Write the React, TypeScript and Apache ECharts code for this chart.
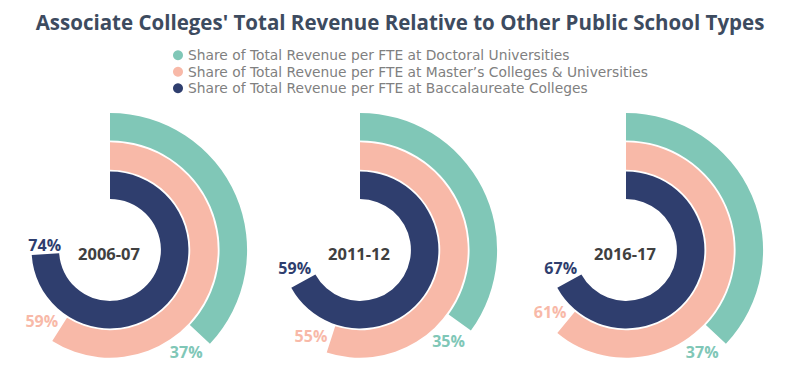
import React, { useEffect, useRef } from "react";
import * as echarts from "echarts";

const years = ["2006-07", "2011-12", "2016-17"];
const seriesNames = [
  "Share of Total Revenue per FTE at Doctoral Universities",
  "Share of Total Revenue per FTE at Master\u2019s Colleges & Universities",
  "Share of Total Revenue per FTE at Baccalaureate Colleges",
];
// arc values as drawn, per year
const doctoral = [37, 35, 37];
const masters = [59, 55, 61];
const baccalaureate = [74, 67, 67];
// printed label values, per year
const doctoralLabels = [37, 35, 37];
const mastersLabels = [59, 55, 61];
const baccalaureateLabels = [74, 59, 67];
const colors = ["#80c7b7", "#f8b9a8", "#2f3e6e"];
// ring order inside -> outside
const rings = ["Baccalaureate", "Master's", "Doctoral"];

const centersX = [110, 360, 626];
const centerY = 250;

export default function App() {
  const ref = useRef<HTMLDivElement>(null);
  useEffect(() => {
    if (!ref.current) return;
    const chart = echarts.init(ref.current, null, { renderer: "svg" });
    const valueSets = [doctoral, masters, baccalaureate];
    const labelSets = [doctoralLabels, mastersLabels, baccalaureateLabels];
    const ringIndex = [2, 1, 0]; // doctoral outermost
    const series: any[] = [];
    years.forEach((_, p) => {
      const cx = centersX[p];
      valueSets.forEach((vals, t) => {
        const data: any[] = ["-", "-", "-"];
        data[ringIndex[t]] = vals[p];
        const labelText = labelSets[t][p] + "%";
        series.push({
          type: "bar",
          name: seriesNames[t],
          coordinateSystem: "polar",
          polarIndex: p,
          stack: "ring" + p,
          data,
          barWidth: 27.5,
          itemStyle: { color: colors[t] },
          label: {
            show: true,
            position: "end",
            rotate: 0,
            distance: 0,
            align: "center",
            verticalAlign: "middle",
            formatter: () => labelText,
            color: colors[t],
            fontSize: 16,
            fontWeight: "bold",
            fontFamily: "Open Sans",
          },
          labelLayout: (params: any) => {
            const r = params.labelRect;
            const lx = r.x + r.width / 2;
            const ly = r.y + r.height / 2;
            const phi = Math.atan2(ly - centerY, lx - cx);
            const tx = -Math.sin(phi);
            const ty = Math.cos(phi);
            const ext = Math.abs(tx) * r.width / 2 + Math.abs(ty) * r.height / 2;
            const off = ext + 3;
            return {
              x: lx + tx * off,
              y: ly + ty * off + 3,
              align: "center",
              verticalAlign: "middle",
            };
          },
        });
      });
    });
    const option: any = {
      animation: false,
      title: {
        text: "Associate Colleges' Total Revenue Relative to Other Public School Types",
        left: "center",
        top: 6,
        textStyle: {
          fontSize: 20.5,
          fontWeight: "bold",
          color: "#3d4b5f",
          fontFamily: "Open Sans",
        },
      },
      graphic: years.map((y, i) => ({
        type: "text",
        x: centersX[i] - 1,
        y: centerY + 3,
        style: {
          text: y,
          align: "center",
          verticalAlign: "middle",
          fontSize: 16.5,
          fontWeight: "bold",
          fill: "#404040",
          fontFamily: "Open Sans",
        },
      })),
      legend: {
        orient: "vertical",
        left: 173,
        top: 48,
        padding: 0,
        icon: "circle",
        itemWidth: 10,
        itemHeight: 10,
        itemGap: 2,
        data: seriesNames,
        textStyle: { color: "#808080", fontSize: 13.8, lineHeight: 14.5, fontFamily: "DejaVu Sans" },
      },
      polar: centersX.map((cx) => ({ center: [cx, centerY], radius: [50, 138] })),
      angleAxis: centersX.map((_, i) => ({
        polarIndex: i,
        type: "value",
        min: 0,
        max: 100,
        startAngle: 90,
        clockwise: true,
        show: false,
      })),
      radiusAxis: centersX.map((_, i) => ({
        polarIndex: i,
        type: "category",
        data: rings,
        show: false,
      })),
      series,
    };
    chart.setOption(option);
    return () => chart.dispose();
  }, []);
  return <div ref={ref} style={{ width: 800, height: 388, margin: -8 }} />;
}
